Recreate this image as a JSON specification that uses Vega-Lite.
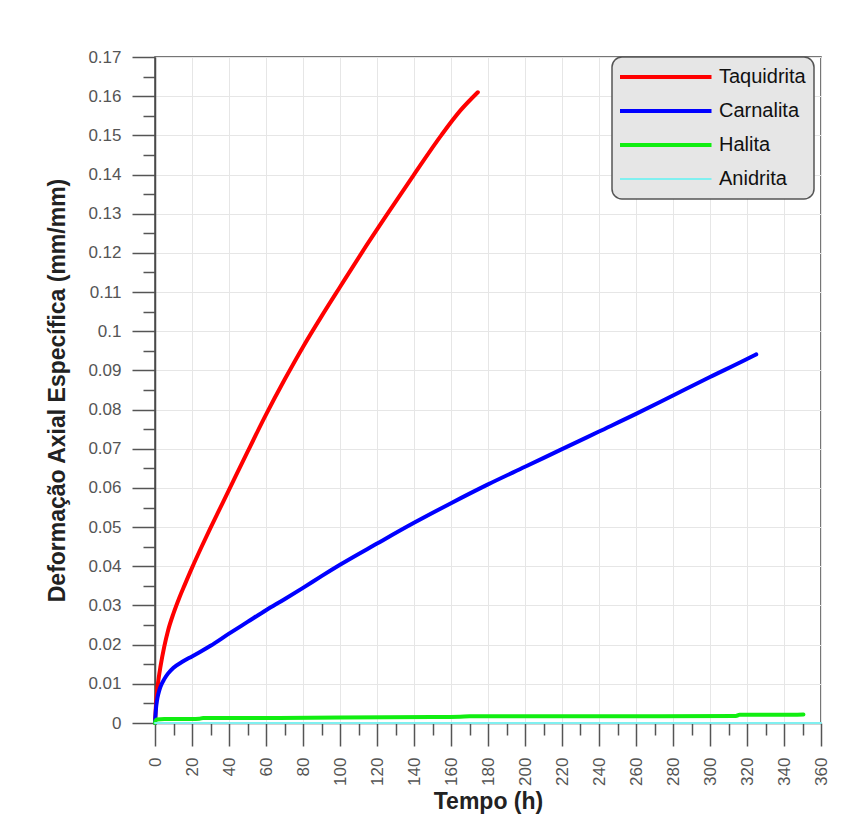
{
  "$schema": "https://vega.github.io/schema/vega-lite/v6.json",
  "width": 666,
  "height": 666,
  "autosize": {"type": "none"},
  "padding": {"left": 155, "top": 57, "right": 46, "bottom": 98},
  "background": "white",
  "config": {
    "font": "Liberation Sans",
    "view": {"stroke": "#4a4a4a", "strokeWidth": 1.5},
    "axis": {
      "labelFont": "Liberation Sans",
      "titleFont": "Liberation Sans",
      "labelColor": "#555555",
      "labelFontSize": 17,
      "titleFontSize": 23,
      "titleFontWeight": "bold",
      "titleColor": "#222222",
      "tickColor": "#555555",
      "tickWidth": 1.5,
      "domainColor": "#4a4a4a",
      "domainWidth": 1.5,
      "gridColor": "#e6e6e6",
      "gridWidth": 1
    }
  },
  "data": {
    "values": [
      {"t": 0, "v": 0, "s": "Taquidrita"},
      {"t": 0.5, "v": 0.0045, "s": "Taquidrita"},
      {"t": 1, "v": 0.0075, "s": "Taquidrita"},
      {"t": 2, "v": 0.0115, "s": "Taquidrita"},
      {"t": 3, "v": 0.0145, "s": "Taquidrita"},
      {"t": 5, "v": 0.0195, "s": "Taquidrita"},
      {"t": 7, "v": 0.0235, "s": "Taquidrita"},
      {"t": 10, "v": 0.028, "s": "Taquidrita"},
      {"t": 13, "v": 0.0318, "s": "Taquidrita"},
      {"t": 16, "v": 0.0352, "s": "Taquidrita"},
      {"t": 20, "v": 0.0396, "s": "Taquidrita"},
      {"t": 25, "v": 0.0448, "s": "Taquidrita"},
      {"t": 30, "v": 0.0498, "s": "Taquidrita"},
      {"t": 40, "v": 0.0595, "s": "Taquidrita"},
      {"t": 50, "v": 0.0692, "s": "Taquidrita"},
      {"t": 60, "v": 0.0787, "s": "Taquidrita"},
      {"t": 70, "v": 0.0876, "s": "Taquidrita"},
      {"t": 80, "v": 0.096, "s": "Taquidrita"},
      {"t": 90, "v": 0.1038, "s": "Taquidrita"},
      {"t": 100, "v": 0.1113, "s": "Taquidrita"},
      {"t": 112, "v": 0.1202, "s": "Taquidrita"},
      {"t": 126, "v": 0.1302, "s": "Taquidrita"},
      {"t": 140, "v": 0.14, "s": "Taquidrita"},
      {"t": 155, "v": 0.1502, "s": "Taquidrita"},
      {"t": 165, "v": 0.1563, "s": "Taquidrita"},
      {"t": 174.5, "v": 0.161, "s": "Taquidrita"},
      {"t": 0, "v": 0, "s": "Carnalita"},
      {"t": 0.5, "v": 0.0035, "s": "Carnalita"},
      {"t": 1, "v": 0.0055, "s": "Carnalita"},
      {"t": 2, "v": 0.0078, "s": "Carnalita"},
      {"t": 3, "v": 0.0093, "s": "Carnalita"},
      {"t": 5, "v": 0.0112, "s": "Carnalita"},
      {"t": 7, "v": 0.0126, "s": "Carnalita"},
      {"t": 10, "v": 0.0141, "s": "Carnalita"},
      {"t": 15, "v": 0.0157, "s": "Carnalita"},
      {"t": 20, "v": 0.017, "s": "Carnalita"},
      {"t": 25, "v": 0.0183, "s": "Carnalita"},
      {"t": 30, "v": 0.0197, "s": "Carnalita"},
      {"t": 40, "v": 0.0228, "s": "Carnalita"},
      {"t": 50, "v": 0.0258, "s": "Carnalita"},
      {"t": 60, "v": 0.0288, "s": "Carnalita"},
      {"t": 70, "v": 0.0316, "s": "Carnalita"},
      {"t": 80, "v": 0.0345, "s": "Carnalita"},
      {"t": 90, "v": 0.0375, "s": "Carnalita"},
      {"t": 100, "v": 0.0404, "s": "Carnalita"},
      {"t": 120, "v": 0.0458, "s": "Carnalita"},
      {"t": 140, "v": 0.0511, "s": "Carnalita"},
      {"t": 160, "v": 0.0561, "s": "Carnalita"},
      {"t": 180, "v": 0.0609, "s": "Carnalita"},
      {"t": 200, "v": 0.0654, "s": "Carnalita"},
      {"t": 220, "v": 0.0699, "s": "Carnalita"},
      {"t": 240, "v": 0.0744, "s": "Carnalita"},
      {"t": 260, "v": 0.0789, "s": "Carnalita"},
      {"t": 280, "v": 0.0836, "s": "Carnalita"},
      {"t": 300, "v": 0.0883, "s": "Carnalita"},
      {"t": 320, "v": 0.0929, "s": "Carnalita"},
      {"t": 325, "v": 0.0941, "s": "Carnalita"},
      {"t": 0, "v": 0, "s": "Halita"},
      {"t": 0.3, "v": 0.0006, "s": "Halita"},
      {"t": 1, "v": 0.0009, "s": "Halita"},
      {"t": 5, "v": 0.001, "s": "Halita"},
      {"t": 20, "v": 0.001, "s": "Halita"},
      {"t": 24, "v": 0.0011, "s": "Halita"},
      {"t": 26, "v": 0.0013, "s": "Halita"},
      {"t": 60, "v": 0.0013, "s": "Halita"},
      {"t": 100, "v": 0.0014, "s": "Halita"},
      {"t": 150, "v": 0.0015, "s": "Halita"},
      {"t": 165, "v": 0.0016, "s": "Halita"},
      {"t": 170, "v": 0.0017, "s": "Halita"},
      {"t": 250, "v": 0.0017, "s": "Halita"},
      {"t": 314, "v": 0.0018, "s": "Halita"},
      {"t": 316, "v": 0.0021, "s": "Halita"},
      {"t": 340, "v": 0.0021, "s": "Halita"},
      {"t": 350.5, "v": 0.0022, "s": "Halita"},
      {"t": 0, "v": 0, "s": "Anidrita"},
      {"t": 120, "v": 0, "s": "Anidrita"},
      {"t": 240, "v": 0, "s": "Anidrita"},
      {"t": 360, "v": 0, "s": "Anidrita"}
    ]
  },
  "mark": {"type": "line", "strokeCap": "round", "strokeJoin": "round", "interpolate": "monotone"},
  "encoding": {
    "x": {
      "field": "t",
      "type": "quantitative",
      "title": "Tempo (h)",
      "scale": {"domain": [0, 360], "nice": false, "zero": true},
      "axis": {
        "values": [0,10,20,30,40,50,60,70,80,90,100,110,120,130,140,150,160,170,180,190,200,210,220,230,240,250,260,270,280,290,300,310,320,330,340,350,360],
        "labelExpr": "datum.value % 20 === 0 ? datum.label : ''",
        "labelAngle": -90,
        "labelAlign": "right",
        "labelBaseline": "middle",
        "labelPadding": 11,
        "labelFlush": false,
        "labelOverlap": false,
        "tickSize": {"condition": {"test": "datum.value % 20 === 0", "value": 23}, "value": 12},
        "gridOpacity": {"condition": {"test": "datum.value % 20 === 0", "value": 1}, "value": 0},
        "titlePadding": 5
      }
    },
    "y": {
      "field": "v",
      "type": "quantitative",
      "title": "Deformação Axial Específica (mm/mm)",
      "scale": {"domain": [0, 0.17], "nice": false, "zero": true},
      "axis": {
        "values": [0,0.005,0.01,0.015,0.02,0.025,0.03,0.035,0.04,0.045,0.05,0.055,0.06,0.065,0.07,0.075,0.08,0.085,0.09,0.095,0.1,0.105,0.11,0.115,0.12,0.125,0.13,0.135,0.14,0.145,0.15,0.155,0.16,0.165,0.17],
        "format": "~g",
        "labelExpr": "round(datum.value * 1000) % 10 === 0 ? datum.label : ''",
        "labelPadding": 11,
        "labelFlush": false,
        "labelOverlap": false,
        "tickSize": {"condition": {"test": "round(datum.value * 1000) % 10 === 0", "value": 23}, "value": 12},
        "gridOpacity": {"condition": {"test": "round(datum.value * 1000) % 10 === 0", "value": 1}, "value": 0},
        "titlePadding": 18
      }
    },
    "color": {
      "field": "s",
      "type": "nominal",
      "sort": ["Taquidrita", "Carnalita", "Halita", "Anidrita"],
      "scale": {
        "domain": ["Taquidrita", "Carnalita", "Halita", "Anidrita"],
        "range": ["#ff0000", "#0000ff", "#11ee11", "#80f0f0"]
      },
      "legend": {
        "title": null,
        "orient": "none",
        "legendX": 457,
        "legendY": 0,
        "symbolType": "stroke",
        "symbolSize": 8649,
        "symbolStrokeWidth": 4,
        "symbolOffset": 35,
        "clipHeight": 24,
        "rowPadding": 10,
        "padding": 8,
        "labelOffset": 44,
        "labelFont": "Liberation Sans",
        "labelFontSize": 20,
        "labelColor": "#111111",
        "fillColor": "#e6e6e6",
        "strokeColor": "#555555",
        "cornerRadius": 10,
        "encode": {
          "legend": {"update": {"strokeWidth": {"value": 1.5}}},
          "symbols": {"update": {"strokeWidth": {"signal": "datum.value === 'Anidrita' ? 2 : 4"}}}
        }
      }
    },
    "strokeWidth": {"condition": {"test": "datum.s === 'Anidrita'", "value": 2}, "value": 4}
  }
}
